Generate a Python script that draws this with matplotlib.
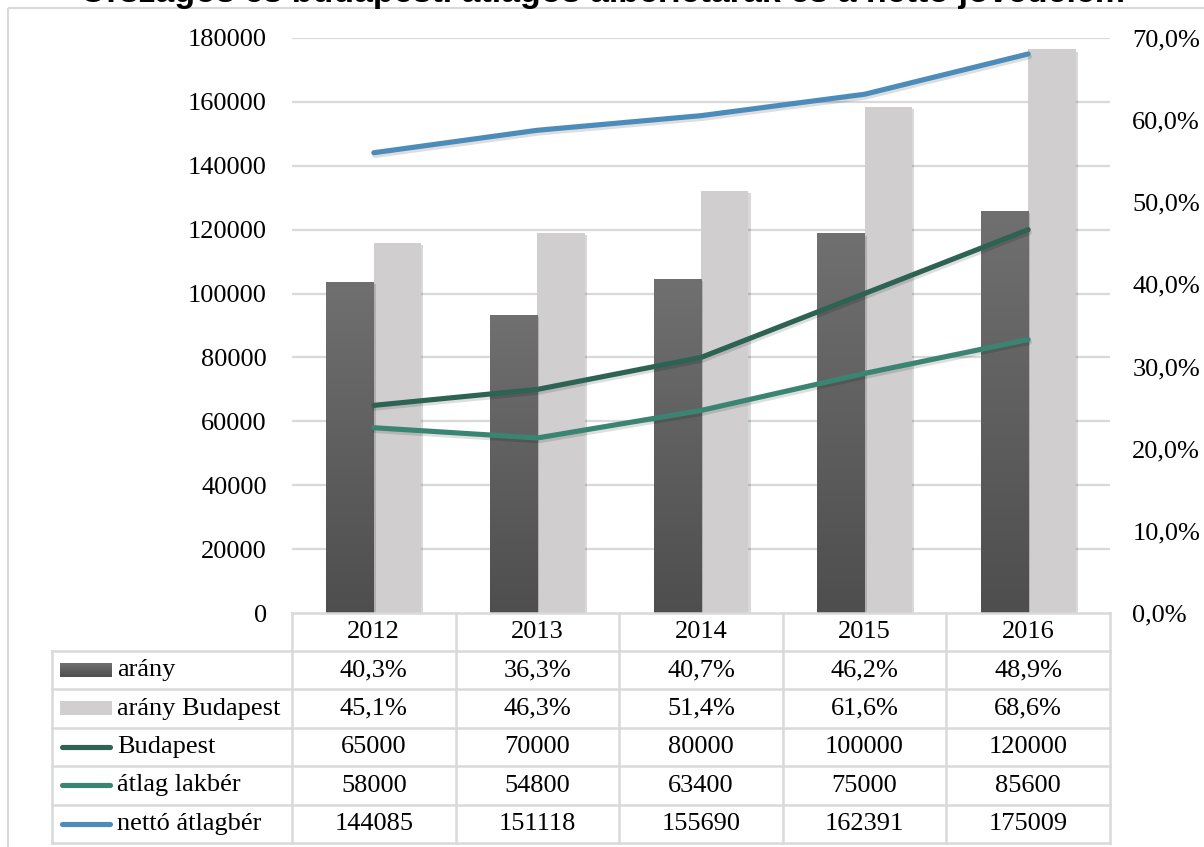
import numpy as np
import matplotlib
matplotlib.use("Agg")
import matplotlib.pyplot as plt
import matplotlib.transforms as mtransforms
import matplotlib.patheffects as pe
from matplotlib.patches import Rectangle
from matplotlib.lines import Line2D

years = ["2012", "2013", "2014", "2015", "2016"]
arany = [40.3, 36.3, 40.7, 46.2, 48.9]
arany_budapest = [45.1, 46.3, 51.4, 61.6, 68.6]
budapest = [65000, 70000, 80000, 100000, 120000]
atlag_lakber = [58000, 54800, 63400, 75000, 85600]
netto_atlagber = [144085, 151118, 155690, 162391, 175009]

left_ticks = list(range(0, 180001, 20000))
right_ticks = list(range(0, 71, 10))

W, H = 1204, 847
plt.rcParams["font.family"] = ["Liberation Serif", "DejaVu Serif"]

DARK_TOP, DARK_BOTTOM = "#707070", "#4e4e4e"
LIGHT = "#d0cecf"
C_BUD = "#2d6353"
C_LAK = "#3a8571"
C_NET = "#4b8cba"
GRID = "#d9d9d9"
FS = 19

fig = plt.figure(figsize=(W / 100, H / 100), dpi=100)
# pixel coordinates measured from the top-left corner of the figure
px = mtransforms.Affine2D().scale(1 / W, -1 / H).translate(0, 1) + fig.transFigure

# outer chart border and the title, which sits mostly above the canvas
fig.patches.append(Rectangle((8, 8), 1300, 900, transform=px, fill=False,
                             edgecolor=GRID, lw=1.5))
fig.text(603, 2, "Országos és budapesti átlagos albérletárak és a nettó jövedelem",
         transform=px, ha="center", va="baseline", fontsize=24.5,
         fontweight="bold", family="Liberation Sans")

ax = fig.add_axes([292 / W, (H - 613) / H, 818 / W, 575 / H])
ax2 = ax.twinx()
ax.set_zorder(ax2.get_zorder() + 1)
ax.patch.set_visible(False)

x = np.arange(len(years))
ax.set_xlim(-0.5, len(years) - 0.5)
ax.set_ylim(0, 180000)
ax2.set_ylim(0, 70)

# gridlines follow the left axis but sit behind the bars
grid_tr = mtransforms.blended_transform_factory(ax2.transAxes, ax.transData)
for t in left_ticks[1:]:
    ax2.plot([0, 1], [t, t], color=GRID, lw=1.6, transform=grid_tr, zorder=0)

bw = 0.29
shadow = [pe.SimplePatchShadow(offset=(1.5, -1.5), shadow_rgbFace="k", alpha=0.15), pe.Normal()]
dark_bars = ax2.bar(x - bw / 2, arany, width=bw, color=DARK_BOTTOM, zorder=2,
                    path_effects=shadow)
ax2.bar(x + bw / 2, arany_budapest, width=bw, color=LIGHT, zorder=1,
        path_effects=shadow)

grad = np.linspace(0, 1, 256).reshape(-1, 1)
cmap = matplotlib.colors.LinearSegmentedColormap.from_list("bar", [DARK_BOTTOM, DARK_TOP])
for b in dark_bars:
    bx, by, bwid, bh = b.get_x(), b.get_y(), b.get_width(), b.get_height()
    im = ax2.imshow(grad, cmap=cmap, origin="lower", aspect="auto",
                    extent=(bx, bx + bwid, by, by + bh), zorder=2.5)
    im.set_clip_path(b)
ax2.set_xlim(-0.5, len(years) - 0.5)
ax2.set_ylim(0, 70)

line_fx = [pe.SimpleLineShadow(offset=(0.8, -2), shadow_color="k", alpha=0.13), pe.Normal()]
for vals, col in [(budapest, C_BUD), (atlag_lakber, C_LAK), (netto_atlagber, C_NET)]:
    ax.plot(x, vals, color=col, lw=3.7, solid_capstyle="round",
            solid_joinstyle="round", path_effects=line_fx, zorder=3)

ax.set_yticks(left_ticks)
ax.set_yticklabels([str(t) for t in left_ticks])
ax2.set_yticks(right_ticks)
ax2.set_yticklabels([f"{t:.1f}%".replace(".", ",") for t in right_ticks])
ax.tick_params(axis="y", length=0, pad=18, labelsize=FS)
ax2.tick_params(axis="y", length=0, pad=16, labelsize=FS)
ax.set_xticks([])
ax2.set_xticks([])
for a in (ax, ax2):
    for s in a.spines.values():
        s.set_visible(False)

# data table under the plot
rows = [613, 651, 689, 728, 766, 805, 843]
col_tr = mtransforms.blended_transform_factory(ax.transData, px)
tkw = dict(color=GRID, lw=1.8, clip_on=False)
fig.lines.append(Line2D([292, 1110], [613, 613], transform=px, **tkw))
for y in rows[1:]:
    fig.lines.append(Line2D([52, 1110], [y, y], transform=px, **tkw))
fig.lines.append(Line2D([52, 52], [rows[1], rows[-1]], transform=px, **tkw))
for xb in np.arange(-0.5, len(years)):
    fig.lines.append(Line2D([xb, xb], [rows[0], rows[-1]], transform=col_tr, **tkw))

for i, yr in enumerate(years):
    fig.text(x[i], (rows[0] + rows[1]) / 2, yr, transform=col_tr,
             ha="center", va="center", fontsize=FS)

table_rows = [
    ("arány", [f"{v:.1f}%".replace(".", ",") for v in arany], "bar", DARK_BOTTOM),
    ("arány Budapest", [f"{v:.1f}%".replace(".", ",") for v in arany_budapest], "bar", LIGHT),
    ("Budapest", [str(v) for v in budapest], "line", C_BUD),
    ("átlag lakbér", [str(v) for v in atlag_lakber], "line", C_LAK),
    ("nettó átlagbér", [str(v) for v in netto_atlagber], "line", C_NET),
]
for r, (label, cells, kind, col) in enumerate(table_rows):
    yc = (rows[r + 1] + rows[r + 2]) / 2
    if kind == "bar":
        if col == DARK_BOTTOM:
            key = fig.add_axes([60 / W, (H - yc - 7) / H, 52 / W, 14 / H])
            key.imshow(grad, cmap=cmap, origin="lower", aspect="auto")
            key.axis("off")
        else:
            fig.patches.append(Rectangle((60, yc - 7), 52, 14, transform=px,
                                         color=col, lw=0))
    else:
        fig.lines.append(Line2D([62, 110], [yc, yc], transform=px, color=col,
                                lw=3.7, solid_capstyle="round"))
    fig.text(117, yc, label, transform=px, ha="left", va="center", fontsize=FS)
    for i, c in enumerate(cells):
        fig.text(x[i], yc, c, transform=col_tr, ha="center", va="center", fontsize=FS)

fig.savefig("out.png", dpi=100)
